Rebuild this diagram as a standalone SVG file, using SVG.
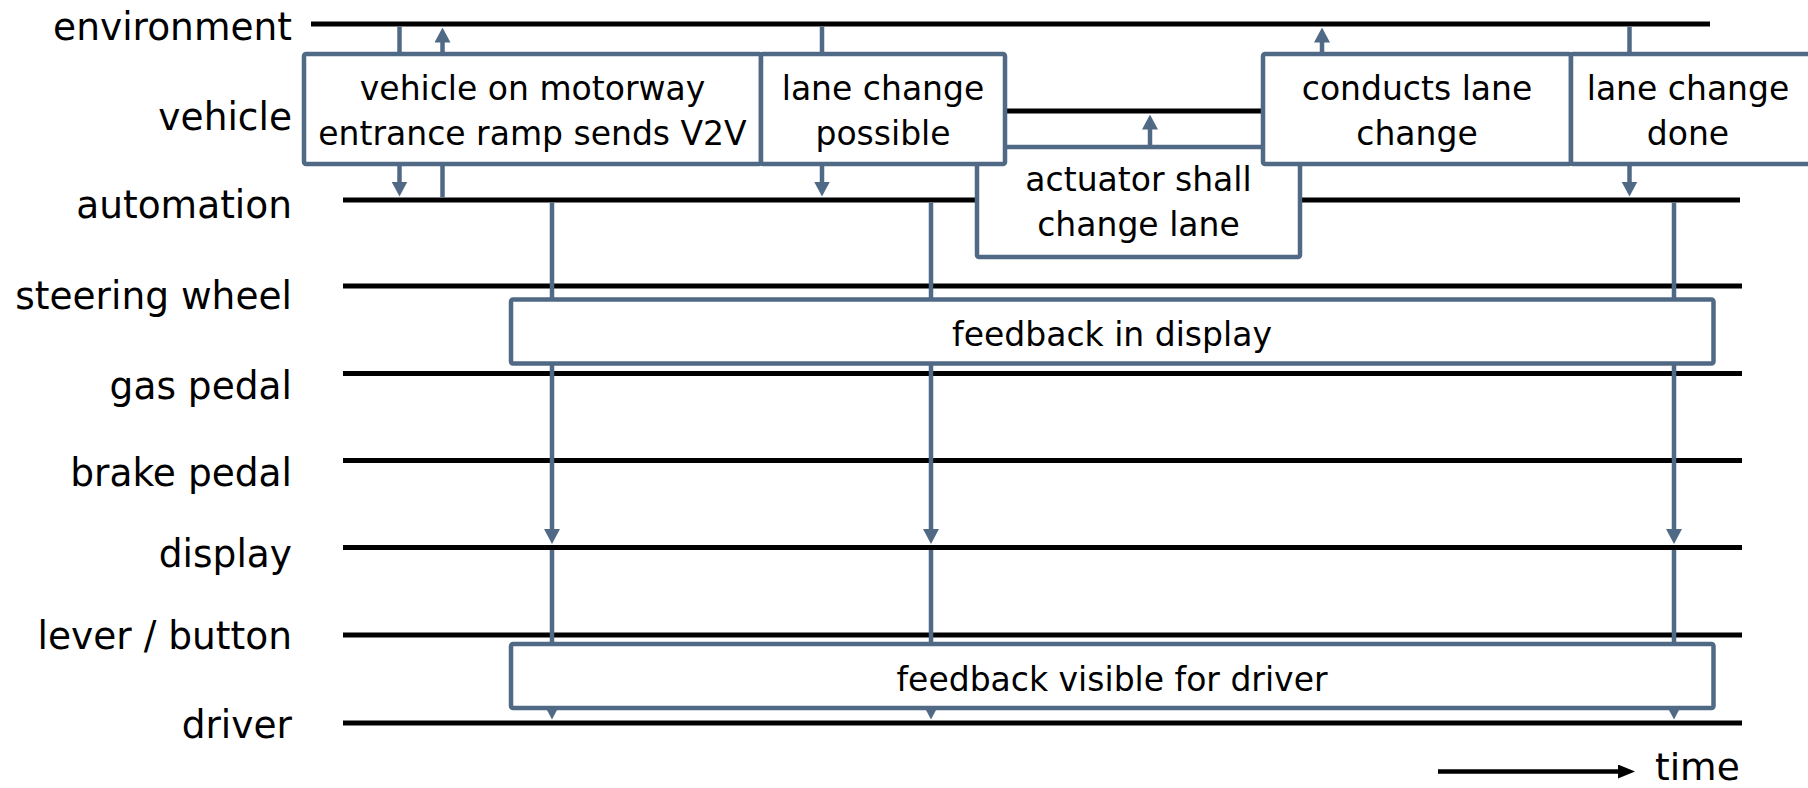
<svg xmlns="http://www.w3.org/2000/svg" width="1808" height="788" viewBox="0 0 1808 788">
  <style>
    .lane { stroke: #000; stroke-width: 5; fill: none; }
    .lbl { font-family: "DejaVu Sans", "Liberation Sans", sans-serif; font-size: 39.5px; fill: #000; text-anchor: end; }
    .box { fill: #fff; stroke: #506a86; stroke-width: 4.5; }
    .txt { font-family: "DejaVu Sans", "Liberation Sans", sans-serif; font-size: 33px; fill: #000; text-anchor: middle; }
    .flow { stroke: #506a86; stroke-width: 4.5; fill: none; marker-end: url(#head); }
  </style>
  <defs>
    <marker id="head" viewBox="0 0 15 16" refX="1" refY="8" markerWidth="15" markerHeight="16" markerUnits="userSpaceOnUse" orient="auto">
      <path d="M0,0 L15,8 L0,16 z" fill="#506a86"/>
    </marker>
    <marker id="blackhead" viewBox="0 0 17 14" refX="1" refY="7" markerWidth="17" markerHeight="14" markerUnits="userSpaceOnUse" orient="auto">
      <path d="M0,0 L17,7 L0,14 z" fill="#000"/>
    </marker>
  </defs>

  <rect width="1808" height="788" fill="#fff"/>

  <!-- swimlanes: timeline + right-aligned label (labels slightly narrowed) -->
  <g id="lane-environment">
    <line class="lane" x1="311" y1="24" x2="1710" y2="24"/>
    <text class="lbl" transform="translate(292,40) scale(0.95,1)">environment</text>
  </g>
  <g id="lane-vehicle">
    <line class="lane" x1="311" y1="111" x2="1742" y2="111"/>
    <text class="lbl" transform="translate(292,130) scale(0.95,1)">vehicle</text>
  </g>
  <g id="lane-automation">
    <line class="lane" x1="343" y1="200" x2="1740" y2="200"/>
    <text class="lbl" transform="translate(292,218) scale(0.95,1)">automation</text>
  </g>
  <g id="lane-steering-wheel">
    <line class="lane" x1="343" y1="286" x2="1742" y2="286"/>
    <text class="lbl" transform="translate(292,309) scale(0.95,1)">steering wheel</text>
  </g>
  <g id="lane-gas-pedal">
    <line class="lane" x1="343" y1="373.5" x2="1742" y2="373.5"/>
    <text class="lbl" transform="translate(292,399) scale(0.95,1)">gas pedal</text>
  </g>
  <g id="lane-brake-pedal">
    <line class="lane" x1="343" y1="460.5" x2="1742" y2="460.5"/>
    <text class="lbl" transform="translate(292,486) scale(0.95,1)">brake pedal</text>
  </g>
  <g id="lane-display">
    <line class="lane" x1="343" y1="547.5" x2="1742" y2="547.5"/>
    <text class="lbl" transform="translate(292,567) scale(0.95,1)">display</text>
  </g>
  <g id="lane-lever-button">
    <line class="lane" x1="343" y1="635" x2="1742" y2="635"/>
    <text class="lbl" transform="translate(292,649) scale(0.95,1)">lever / button</text>
  </g>
  <g id="lane-driver">
    <line class="lane" x1="343" y1="723" x2="1742" y2="723"/>
    <text class="lbl" transform="translate(292,738) scale(0.95,1)">driver</text>
  </g>

  <!-- messages between lanes -->
  <g id="connectors">
    <path class="flow" d="M399.5,26.5 V182.5"/>
    <path class="flow" d="M442.5,197.5 V41.5"/>
    <path class="flow" d="M822,26.5 V182.5"/>
    <path class="flow" d="M1150,197.5 V128.5"/>
    <path class="flow" d="M1322,54 V41.5"/>
    <path class="flow" d="M1629.5,26.5 V182.5"/>
    <path class="flow" d="M552,202.5 V530"/>
    <path class="flow" d="M931,202.5 V530"/>
    <path class="flow" d="M1674,202.5 V530"/>
    <path class="flow" d="M552,550 V705.5"/>
    <path class="flow" d="M931,550 V705.5"/>
    <path class="flow" d="M1674,550 V705.5"/>
  </g>

  <!-- event boxes -->
  <g id="actuator-change-lane">
    <rect class="box" x="977" y="147" width="323" height="110" rx="2"/>
    <text class="txt" x="1138.5" y="191">actuator shall</text>
    <text class="txt" x="1138.5" y="236">change lane</text>
  </g>
  <g id="v2v-message">
    <rect class="box" x="304" y="54" width="457" height="110" rx="2"/>
    <text class="txt" x="532.5" y="100">vehicle on motorway</text>
    <text class="txt" x="532.5" y="145">entrance ramp sends V2V</text>
  </g>
  <g id="lane-change-possible">
    <rect class="box" x="761" y="54" width="244" height="110" rx="2"/>
    <text class="txt" x="883" y="100">lane change</text>
    <text class="txt" x="883" y="145">possible</text>
  </g>
  <g id="conducts-lane-change">
    <rect class="box" x="1263" y="54" width="308" height="110" rx="2"/>
    <text class="txt" x="1417" y="100">conducts lane</text>
    <text class="txt" x="1417" y="145">change</text>
  </g>
  <g id="lane-change-done">
    <rect class="box" x="1571" y="54" width="245" height="110" rx="2"/>
    <text class="txt" x="1688" y="100">lane change</text>
    <text class="txt" x="1688" y="145">done</text>
  </g>
  <g id="feedback-display">
    <rect class="box" x="511" y="299.5" width="1202.5" height="64" rx="2"/>
    <text class="txt" x="1112" y="346">feedback in display</text>
  </g>
  <g id="feedback-driver">
    <rect class="box" x="511" y="644" width="1202.5" height="64" rx="2"/>
    <text class="txt" x="1112" y="691">feedback visible for driver</text>
  </g>

  <!-- time axis -->
  <g id="time-axis">
    <line x1="1438" y1="771.5" x2="1619" y2="771.5" stroke="#000" stroke-width="4.5" marker-end="url(#blackhead)"/>
    <text x="1655" y="780" font-family="DejaVu Sans, Liberation Sans, sans-serif" font-size="37.5">time</text>
  </g>
</svg>
